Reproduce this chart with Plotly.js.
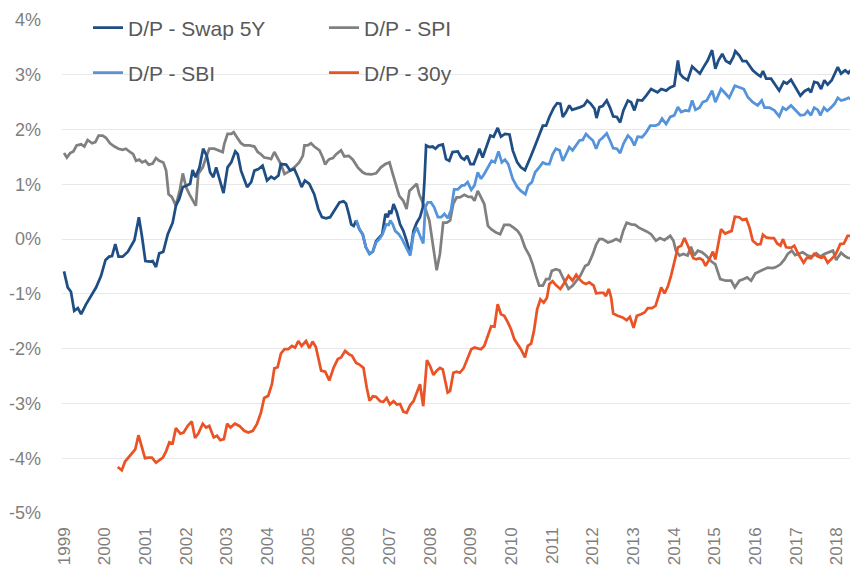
<!DOCTYPE html>
<html>
<head>
<meta charset="utf-8">
<script src="https://cdn.plot.ly/plotly-3.0.1.min.js"></script>
<style>html,body{margin:0;padding:0;background:#fff;}#chart{width:850px;height:570px;}</style>
</head>
<body>
<div id="chart"></div>
<script>
// ---- Data (x = decimal year, y = percent) ----
const swapYears = [1999.00,1999.09,1999.17,1999.25,1999.34,1999.42,1999.54,1999.66,1999.79,1999.91,
2000.02,2000.11,2000.18,2000.26,2000.34,2000.44,2000.57,2000.73,2000.84,2000.92,
2001.00,2001.11,2001.18,2001.26,2001.34,2001.44,2001.55,2001.67,2001.75,2001.83,2001.92,
2002.02,2002.10,2002.16,2002.23,
2002.33,2002.42,2002.51,2002.59,2002.67,2002.74,2002.82,2002.92,
2003.02,2003.11,2003.21,2003.27,2003.35,2003.50,2003.60,2003.68,2003.78,2003.88,2003.99,
2004.09,2004.17,2004.27,2004.33,2004.46,2004.56,2004.66,2004.75,2004.84,2004.92,
2005.03,2005.15,2005.25,2005.34,2005.44,2005.54,2005.64,2005.77,2005.87,2005.93,
2006.00,2006.06,2006.12,2006.18,2006.26,2006.34,2006.42,2006.51,2006.59,2006.67,2006.75,2006.82,2006.90,2006.96,
2007.00,2007.04,2007.10,2007.18,2007.26,2007.34,2007.42,2007.51,2007.59,2007.67,2007.75,2007.82,2007.86,2007.90,2007.98,
2008.06,2008.13,2008.21,2008.31,2008.39,2008.47,2008.55,2008.68,2008.76,2008.84,2008.91,2008.99,
2009.07,2009.15,2009.21,2009.29,2009.40,2009.48,2009.56,2009.66,2009.74,2009.84,2009.95,
2010.03,2010.14,2010.23,2010.33,2010.40,2010.48,2010.58,2010.68,2010.77,2010.85,2010.93,
2011.04,2011.12,2011.20,2011.26,2011.34,2011.42,2011.49,2011.59,2011.69,2011.78,2011.86,2011.95,
2012.04,2012.09,2012.16,2012.24,2012.34,2012.42,2012.50,2012.59,2012.67,2012.75,2012.86,2012.94,
2013.02,2013.10,2013.21,2013.31,2013.43,2013.51,2013.59,2013.68,2013.80,2013.90,
2014.00,2014.09,2014.14,2014.22,2014.33,2014.44,2014.54,2014.63,2014.72,2014.82,2014.93,
2015.01,2015.09,2015.18,2015.27,2015.37,2015.45,2015.50,2015.60,2015.68,2015.77,2015.85,2015.93,
2016.04,2016.12,2016.18,2016.26,2016.38,2016.50,2016.58,2016.69,2016.77,2016.87,2016.97,
2017.10,2017.20,2017.30,2017.36,2017.44,2017.53,2017.61,2017.69,2017.77,2017.87,2017.94,
2018.02,2018.10,2018.20,2018.28,2018.33];
const swapValues = [-0.59,-0.88,-0.96,-1.31,-1.26,-1.37,-1.19,-1.05,-0.88,-0.67,
-0.38,-0.32,-0.31,-0.09,-0.32,-0.32,-0.23,-0.02,0.40,0.03,
-0.40,-0.41,-0.40,-0.51,-0.26,-0.23,0.09,0.30,0.61,0.73,0.95,
0.98,1.01,1.26,1.13,
1.31,1.65,1.52,1.22,1.13,1.31,1.10,0.84,
1.31,1.40,1.60,1.55,1.25,0.95,1.04,1.25,1.28,1.34,1.07,
1.14,1.10,1.16,1.37,1.36,1.25,1.28,1.13,0.95,1.07,
1.01,0.82,0.55,0.40,0.38,0.40,0.52,0.67,0.69,0.65,
0.46,0.27,0.24,0.34,0.18,0.09,-0.15,-0.27,-0.23,-0.04,0.03,0.09,0.46,0.40,
0.52,0.46,0.64,0.49,0.27,0.15,-0.03,-0.27,0.15,0.30,0.40,0.58,1.07,1.71,1.68,
1.69,1.65,1.71,1.73,1.46,1.43,1.59,1.60,1.49,1.45,1.52,1.37,
1.37,1.52,1.65,1.49,1.71,1.89,1.87,2.03,1.87,1.92,1.91,
1.62,1.40,1.31,1.26,1.37,1.52,1.71,1.89,2.07,2.07,2.23,
2.40,2.48,2.47,2.23,2.32,2.44,2.36,2.38,2.41,2.44,2.53,2.47,
2.38,2.21,2.41,2.43,2.53,2.40,2.24,2.23,2.13,2.35,2.53,2.50,
2.35,2.54,2.53,2.62,2.74,2.71,2.68,2.74,2.71,2.77,
2.80,3.26,3.02,2.95,2.90,3.15,3.08,3.02,3.14,3.26,3.45,
3.11,3.27,3.38,3.25,3.21,3.32,3.43,3.35,3.25,3.25,3.17,3.08,
3.01,2.97,3.07,2.93,2.93,2.80,2.71,2.87,2.84,2.91,2.79,
2.62,2.70,2.74,2.68,2.87,2.85,2.74,2.90,2.82,2.90,3.02,
3.14,3.02,3.08,3.03,3.08];

const sbiYears = [2006.18,2006.26,2006.34,2006.42,2006.51,2006.59,2006.67,2006.75,2006.83,2006.92,2006.98,
2007.02,2007.08,2007.14,2007.23,2007.31,2007.41,2007.51,2007.59,2007.67,2007.75,2007.83,2007.88,2007.94,
2008.02,2008.10,2008.19,2008.27,2008.35,2008.43,2008.51,2008.59,2008.68,2008.78,2008.84,2008.92,
2009.01,2009.09,2009.17,2009.25,2009.33,2009.43,2009.51,2009.59,2009.68,2009.76,2009.84,2009.92,
2010.03,2010.14,2010.23,2010.34,2010.41,2010.50,2010.58,2010.68,2010.77,2010.85,2010.93,
2011.01,2011.09,2011.18,2011.26,2011.34,2011.42,2011.50,2011.59,2011.67,2011.75,2011.83,2011.91,
2012.00,2012.08,2012.16,2012.24,2012.34,2012.42,2012.50,2012.59,2012.67,2012.75,2012.86,2012.94,
2013.02,2013.10,2013.21,2013.31,2013.41,2013.54,2013.62,2013.70,2013.80,2013.90,
2014.00,2014.09,2014.17,2014.27,2014.36,2014.44,2014.52,2014.62,2014.70,2014.80,2014.93,
2015.01,2015.09,2015.15,2015.23,2015.35,2015.49,2015.60,2015.71,2015.81,2015.93,
2016.05,2016.15,2016.22,2016.34,2016.46,2016.58,2016.67,2016.75,2016.87,2016.97,
2017.10,2017.20,2017.28,2017.36,2017.44,2017.53,2017.59,2017.68,2017.76,2017.85,2017.94,
2018.02,2018.10,2018.20,2018.28,2018.33];
const sbiValues = [0.35,0.18,0.09,-0.15,-0.27,-0.23,-0.06,0.00,0.09,0.27,0.26,
0.34,0.27,0.15,0.09,0.00,-0.15,-0.30,0.09,0.21,0.06,-0.08,0.58,0.67,
0.67,0.58,0.40,0.40,0.46,0.38,0.52,0.91,0.91,0.98,0.98,1.04,
0.90,0.98,1.22,1.10,1.19,1.31,1.43,1.40,1.60,1.40,1.45,1.37,
1.10,0.95,0.88,0.82,0.98,1.04,1.22,1.31,1.40,1.37,1.37,
1.55,1.65,1.62,1.43,1.55,1.68,1.62,1.71,1.80,1.81,1.92,1.86,
1.80,1.65,1.80,1.85,1.93,1.80,1.66,1.65,1.57,1.74,1.89,1.83,
1.71,1.87,1.86,1.95,2.07,2.07,2.10,2.20,2.10,2.23,
2.26,2.41,2.32,2.35,2.34,2.53,2.36,2.40,2.50,2.53,2.71,
2.50,2.64,2.74,2.68,2.58,2.80,2.77,2.74,2.59,2.50,
2.44,2.53,2.40,2.40,2.35,2.24,2.40,2.36,2.44,2.36,
2.26,2.27,2.34,2.26,2.40,2.36,2.26,2.40,2.34,2.40,2.47,
2.58,2.53,2.55,2.58,2.56];

const spiYears = [1999.00,1999.07,1999.15,1999.23,1999.31,1999.42,1999.50,1999.58,1999.69,1999.77,1999.85,1999.95,
2000.03,2000.13,2000.24,2000.34,2000.44,2000.52,2000.62,2000.70,2000.77,2000.85,2000.92,
2001.00,2001.08,2001.18,2001.26,2001.34,2001.44,2001.51,2001.57,2001.65,2001.75,2001.85,2001.92,
2002.00,2002.08,2002.16,2002.24,2002.30,2002.41,2002.49,2002.57,2002.69,2002.82,2002.90,2002.94,
2003.02,2003.11,2003.17,2003.25,2003.35,2003.43,2003.56,2003.68,2003.76,2003.84,2003.92,
2004.01,2004.09,2004.17,2004.25,2004.33,2004.42,2004.54,2004.66,2004.78,2004.87,2004.91,2004.99,
2005.07,2005.15,2005.28,2005.36,2005.42,2005.48,2005.52,2005.61,2005.69,2005.81,2005.89,
2006.00,2006.10,2006.22,2006.34,2006.42,2006.55,2006.67,2006.79,2006.90,
2007.00,2007.08,2007.16,2007.24,2007.34,2007.42,2007.49,2007.59,2007.67,2007.73,2007.82,2007.90,2007.98,
2008.06,2008.16,2008.24,2008.32,2008.41,2008.49,2008.57,2008.65,2008.73,2008.84,2008.94,
2009.02,2009.09,2009.17,2009.25,2009.33,2009.42,2009.50,2009.62,2009.72,2009.82,2009.95,
2010.05,2010.15,2010.23,2010.33,2010.44,2010.52,2010.60,2010.68,2010.77,2010.85,2010.93,2010.99,
2011.09,2011.18,2011.26,2011.34,2011.40,2011.50,2011.59,2011.69,2011.81,2011.89,
2012.00,2012.08,2012.16,2012.24,2012.37,2012.47,2012.57,2012.67,2012.75,2012.83,2012.94,
2013.04,2013.13,2013.23,2013.32,2013.43,2013.55,2013.65,2013.76,2013.90,2013.98,
2014.04,2014.13,2014.22,2014.33,2014.41,2014.49,2014.58,2014.68,2014.78,2014.90,
2015.01,2015.13,2015.27,2015.40,2015.49,2015.60,2015.71,2015.79,2015.89,2015.99,
2016.09,2016.20,2016.30,2016.42,2016.50,2016.61,2016.71,2016.79,2016.89,2016.97,
2017.05,2017.16,2017.28,2017.38,2017.49,2017.59,2017.69,2017.79,2017.90,2017.98,
2018.10,2018.18,2018.26,2018.33];
const spiValues = [1.57,1.49,1.57,1.60,1.71,1.73,1.69,1.81,1.75,1.77,1.89,1.89,
1.85,1.75,1.69,1.65,1.63,1.65,1.59,1.55,1.43,1.45,1.40,
1.43,1.36,1.38,1.48,1.43,1.40,1.25,0.82,0.77,0.61,0.91,1.20,
0.95,0.82,0.70,0.61,1.19,1.31,1.49,1.65,1.65,1.62,1.59,1.74,
1.92,1.92,1.95,1.86,1.75,1.71,1.71,1.69,1.59,1.55,1.49,
1.48,1.46,1.59,1.49,1.37,1.19,1.24,1.31,1.40,1.52,1.71,1.71,
1.75,1.69,1.62,1.49,1.36,1.43,1.46,1.48,1.55,1.62,1.51,
1.52,1.45,1.31,1.22,1.19,1.18,1.20,1.31,1.37,
1.40,1.19,1.01,0.79,0.70,0.55,0.88,0.95,1.01,0.82,0.67,0.52,0.34,
-0.03,-0.57,-0.27,0.30,0.30,0.34,0.65,0.76,0.76,0.81,0.77,
0.77,0.70,0.88,0.76,0.64,0.24,0.18,0.12,0.09,0.26,0.26,
0.21,0.15,0.06,-0.15,-0.30,-0.46,-0.67,-0.85,-0.85,-0.73,-0.73,-0.58,
-0.55,-0.57,-0.70,-0.81,-0.91,-0.85,-0.77,-0.67,-0.49,-0.46,
-0.27,-0.10,0.00,0.00,-0.06,-0.04,0.00,-0.04,0.16,0.30,0.27,
0.26,0.21,0.18,0.14,0.09,-0.03,0.02,-0.02,0.06,-0.03,
-0.21,-0.30,-0.27,-0.30,-0.14,-0.30,-0.21,-0.24,-0.30,-0.40,
-0.46,-0.73,-0.76,-0.76,-0.88,-0.76,-0.73,-0.70,-0.76,-0.63,
-0.59,-0.55,-0.52,-0.53,-0.51,-0.46,-0.37,-0.27,-0.21,-0.29,
-0.27,-0.24,-0.30,-0.32,-0.26,-0.32,-0.27,-0.24,-0.21,-0.38,
-0.25,-0.30,-0.34,-0.35];

const y30Years = [2000.32,2000.42,2000.50,2000.58,2000.66,2000.75,2000.83,2000.91,2000.99,
2001.07,2001.16,2001.26,2001.34,2001.43,2001.51,2001.59,2001.67,2001.75,2001.86,2001.94,
2002.04,2002.14,2002.22,2002.30,2002.41,2002.49,2002.57,2002.68,2002.76,2002.84,2002.93,
2003.01,2003.09,2003.20,2003.31,2003.43,2003.53,2003.64,2003.74,2003.84,2003.92,
2004.02,2004.11,2004.17,2004.25,2004.33,2004.42,2004.51,2004.60,2004.68,2004.76,2004.84,2004.95,
2005.03,2005.11,2005.19,2005.32,2005.42,2005.52,2005.63,2005.73,2005.81,2005.91,
2006.00,2006.08,2006.18,2006.26,2006.36,2006.44,2006.51,2006.59,2006.67,2006.77,2006.85,2006.93,
2007.01,2007.10,2007.18,2007.26,2007.34,2007.42,2007.51,2007.59,2007.67,2007.75,2007.83,2007.92,
2008.00,2008.08,2008.16,2008.24,2008.31,2008.37,2008.43,2008.49,2008.57,2008.65,2008.73,2008.82,2008.92,
2009.01,2009.09,2009.17,2009.25,2009.33,2009.42,2009.50,2009.58,2009.66,2009.74,2009.82,2009.91,2009.99,
2010.07,2010.15,2010.23,2010.33,2010.40,2010.48,2010.55,2010.63,2010.71,2010.79,2010.87,2010.93,
2011.01,2011.09,2011.20,2011.28,2011.40,2011.50,2011.59,2011.67,2011.75,2011.83,2011.91,
2012.02,2012.08,2012.18,2012.26,2012.32,2012.39,2012.45,2012.50,2012.61,2012.73,2012.83,2012.91,
2013.00,2013.08,2013.18,2013.27,2013.35,2013.45,2013.54,2013.62,2013.68,2013.76,2013.84,2013.92,
2014.00,2014.09,2014.17,2014.25,2014.31,2014.39,2014.47,2014.54,2014.62,2014.70,2014.77,2014.86,2014.95,
2015.01,2015.09,2015.15,2015.25,2015.33,2015.41,2015.49,2015.60,2015.68,2015.77,2015.85,2015.93,
2016.04,2016.12,2016.18,2016.26,2016.36,2016.45,2016.53,2016.61,2016.67,2016.75,2016.87,2016.95,
2017.04,2017.12,2017.18,2017.26,2017.36,2017.44,2017.53,2017.61,2017.69,2017.77,2017.87,2017.95,
2018.03,2018.08,2018.17,2018.26,2018.33];
const y30Values = [-4.16,-4.22,-4.06,-3.99,-3.93,-3.84,-3.58,-3.81,-4.00,
-3.99,-3.99,-4.08,-4.04,-3.99,-3.87,-3.71,-3.73,-3.45,-3.55,-3.53,
-3.41,-3.33,-3.63,-3.55,-3.37,-3.44,-3.41,-3.62,-3.59,-3.67,-3.65,
-3.37,-3.44,-3.37,-3.41,-3.50,-3.53,-3.50,-3.38,-3.17,-2.90,
-2.86,-2.65,-2.36,-2.34,-2.09,-2.01,-2.01,-1.95,-1.98,-1.86,-1.95,-1.86,
-1.99,-1.87,-1.97,-2.40,-2.42,-2.58,-2.34,-2.19,-2.16,-2.04,
-2.10,-2.13,-2.26,-2.29,-2.35,-2.71,-2.95,-2.87,-2.88,-2.96,-2.97,-2.90,
-3.02,-2.96,-3.02,-3.01,-3.15,-3.17,-3.03,-2.96,-2.80,-2.65,-3.05,-2.21,
-2.32,-2.48,-2.40,-2.35,-2.38,-2.62,-2.80,-2.77,-2.44,-2.42,-2.44,-2.36,-2.16,
-2.01,-1.98,-1.99,-2.01,-1.95,-1.74,-1.59,-1.60,-1.19,-1.37,-1.40,-1.52,-1.65,
-1.83,-1.91,-2.01,-2.16,-1.95,-1.91,-1.68,-1.28,-1.10,-1.16,-1.07,-0.82,
-0.77,-0.84,-0.91,-0.82,-0.67,-0.76,-0.65,-0.73,-0.79,-0.82,-0.79,
-0.85,-0.99,-0.98,-0.98,-1.04,-0.91,-1.07,-1.36,-1.40,-1.43,-1.48,-1.42,
-1.62,-1.40,-1.37,-1.34,-1.26,-1.26,-1.22,-1.04,-0.88,-0.99,-0.87,-0.67,
-0.43,-0.15,-0.12,0.02,-0.08,-0.21,-0.35,-0.37,-0.35,-0.38,-0.49,-0.37,-0.23,
-0.37,-0.06,0.18,0.10,0.12,0.15,0.41,0.40,0.35,0.37,0.21,-0.03,
-0.10,-0.09,0.08,0.03,0.02,0.02,-0.08,-0.12,0.00,-0.15,-0.16,-0.12,
-0.26,-0.35,-0.43,-0.34,-0.35,-0.27,-0.32,-0.34,-0.32,-0.43,-0.35,-0.30,
-0.18,-0.09,-0.08,0.06,0.06];

const seriesNames = ['D/P - Swap 5Y', 'D/P - SPI', 'D/P - SBI', 'D/P - 30y'];
const yearTicks = [1999,2000,2001,2002,2003,2004,2005,2006,2007,2008,2009,2010,2011,2012,2013,2014,2015,2016,2017,2018];
const pctTicks = [4,3,2,1,0,-1,-2,-3,-4,-5];
const pctLabels = pctTicks.map(v => v + '%');

// ---- Styles ----
const FONT = 'Liberation Sans, Arial, sans-serif';
const LW = 2.75;

function line(name, xs, ys, color, legend, rank) {
  return {
    type: 'scatter', mode: 'lines', name: name, x: xs, y: ys,
    line: {color: color, width: LW, shape: 'linear'},
    legend: legend, legendrank: rank, hoverinfo: 'skip'
  };
}

const data = [
  line(seriesNames[1], spiYears, spiValues, '#808080', 'legend', 2),
  line(seriesNames[0], swapYears, swapValues, '#1f4e84', 'legend', 1),
  line(seriesNames[2], sbiYears, sbiValues, '#5593db', 'legend2', 1),
  line(seriesNames[3], y30Years, y30Values, '#ea5326', 'legend2', 2)
];

const legendBase = {
  orientation: 'h', xref: 'paper', yref: 'paper',
  x: (88 - 62) / 788, xanchor: 'left', yanchor: 'middle',
  entrywidth: 191, entrywidthmode: 'pixels',
  bgcolor: 'rgba(0,0,0,0)', borderwidth: 0,
  font: {family: FONT, size: 21, color: '#595959'}
};

const layout = {
  width: 850, height: 570,
  margin: {l: 62, r: 0, t: 20, b: 57},
  paper_bgcolor: '#ffffff', plot_bgcolor: '#ffffff',
  showlegend: true,
  legend: Object.assign({}, legendBase, {y: 1 - (28 - 20) / 493}),
  legend2: Object.assign({}, legendBase, {y: 1 - (73 - 20) / 493}),
  xaxis: {
    type: 'linear', range: [1998.95, 2018.32],
    tickmode: 'array', tickvals: yearTicks, ticktext: yearTicks.map(String),
    tickangle: -90, ticks: '', ticklabelstandoff: 10,
    showgrid: false, zeroline: false, showline: false,
    tickfont: {family: FONT, size: 17, color: '#7f7f7f'}
  },
  yaxis: {
    range: [-5, 4],
    tickmode: 'array', tickvals: pctTicks, ticktext: pctLabels,
    ticks: '', ticklabelstandoff: 20,
    showgrid: true, gridcolor: '#e8e8e8', gridwidth: 1,
    zeroline: false, showline: false,
    tickfont: {family: FONT, size: 18, color: '#7f7f7f'}
  }
};

Plotly.newPlot('chart', data, layout, {staticPlot: true, displayModeBar: false});
</script>
</body>
</html>
